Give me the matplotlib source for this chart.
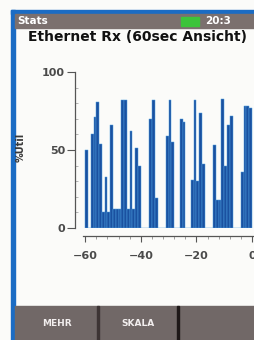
import numpy as np
import matplotlib
matplotlib.use("Agg")
import matplotlib.pyplot as plt
from matplotlib.patches import Rectangle
from matplotlib.ticker import MultipleLocator

# seconds relative to now (bar left edges) and link utilisation in %
seconds = list(range(-60, 0))
util = [50, 0, 60, 71, 81, 54, 10, 33, 10, 66,
        12, 12, 12, 82, 82, 12, 62, 12, 51, 40,
        0, 0, 0, 70, 82, 19, 0, 0, 0, 59,
        82, 55, 0, 0, 70, 68, 0, 0, 31, 82,
        30, 74, 41, 0, 0, 0, 53, 18, 18, 83,
        40, 66, 72, 0, 0, 0, 36, 78, 78, 77]
x_ticks = [-60, -40, -20, 0]
y_ticks = [0, 50, 100]
title = "Ethernet Rx (60sec Ansicht)"
header_left = "Stats"
header_right = "20:3"
buttons = ["MEHR", "SKALA"]

W, H = 254, 340
fig = plt.figure(figsize=(W / 100, H / 100), dpi=100)
fig.patch.set_facecolor("#fbfbf9")

# screen chrome drawn in pixel coordinates
bg = fig.add_axes([0, 0, 1, 1])
bg.set_xlim(0, W)
bg.set_ylim(H, 0)
bg.axis("off")

blue = "#1b6cc4"
bg.add_patch(Rectangle((11, 10), 4, H - 10, color=blue))
bg.add_patch(Rectangle((11, 10), W - 11, 4, color=blue))

# header bar
bg.add_patch(Rectangle((15, 14), W - 15, 14, color="#7b706e"))
bg.text(17, 21.5, header_left, color="white", fontsize=7.5, fontweight="bold",
        va="center", ha="left")
bg.add_patch(Rectangle((181, 17), 18, 9, color="#3cc43a"))
bg.text(205, 21.5, header_right, color="white", fontsize=7.5, fontweight="bold",
        va="center", ha="left")

# title
bg.text(137, 37, title, color="#111111", fontsize=10, fontweight="bold",
        va="center", ha="center")

# y label
bg.text(21, 147, "%Util", color="#3a3a3a", fontsize=7, fontweight="bold",
        rotation=90, va="center", ha="center")

# bottom soft-key bar
bg.add_patch(Rectangle((15, 306), W - 15, H - 306, color="#716867"))
bg.add_patch(Rectangle((97, 306), 2, H - 306, color="#3d3434"))
bg.add_patch(Rectangle((177, 306), 2, H - 306, color="#1e1818"))
bg.text(57, 324, buttons[0], color="#f2eeee", fontsize=6.5, fontweight="bold",
        va="center", ha="center")
bg.text(138, 324, buttons[1], color="#f2eeee", fontsize=6.5, fontweight="bold",
        va="center", ha="center")

# main chart
ax = fig.add_axes([83 / W, (H - 228) / H, 171 / W, 156 / H])
ax.patch.set_alpha(0)
ax.bar(seconds, util, width=1.0, align="edge", color="#1a51a0",
       edgecolor="#4d9ee0", linewidth=0.35)
ax.set_xlim(-60.8, 0.7)
ax.set_ylim(0, 100)

for s in ["top", "right"]:
    ax.spines[s].set_visible(False)
ax.spines["left"].set_position(("outward", 5.5))
ax.spines["bottom"].set_position(("outward", 5.5))
for s in ["left", "bottom"]:
    ax.spines[s].set_color("#555555")
    ax.spines[s].set_linewidth(0.9)

ax.set_xticks(x_ticks)
ax.set_yticks(y_ticks)
ax.xaxis.set_minor_locator(MultipleLocator(4))
ax.yaxis.set_minor_locator(MultipleLocator(10))
ax.tick_params(axis="x", which="major", direction="out", length=4, width=0.8,
               colors="#555555", labelcolor="#4a4a4a", labelsize=8, pad=7)
ax.tick_params(axis="x", which="minor", direction="out", length=2.5, width=0.5,
               colors="#777777")
ax.tick_params(axis="y", which="major", direction="out", length=6, width=0.8,
               colors="#555555", labelcolor="#4a4a4a", labelsize=8, pad=1.5)
ax.tick_params(axis="y", which="minor", direction="in", length=2, width=0.5,
               colors="#999999")
for lbl in ax.get_xticklabels() + ax.get_yticklabels():
    lbl.set_fontweight("bold")

fig.savefig("out.png", dpi=100, facecolor=fig.get_facecolor())
